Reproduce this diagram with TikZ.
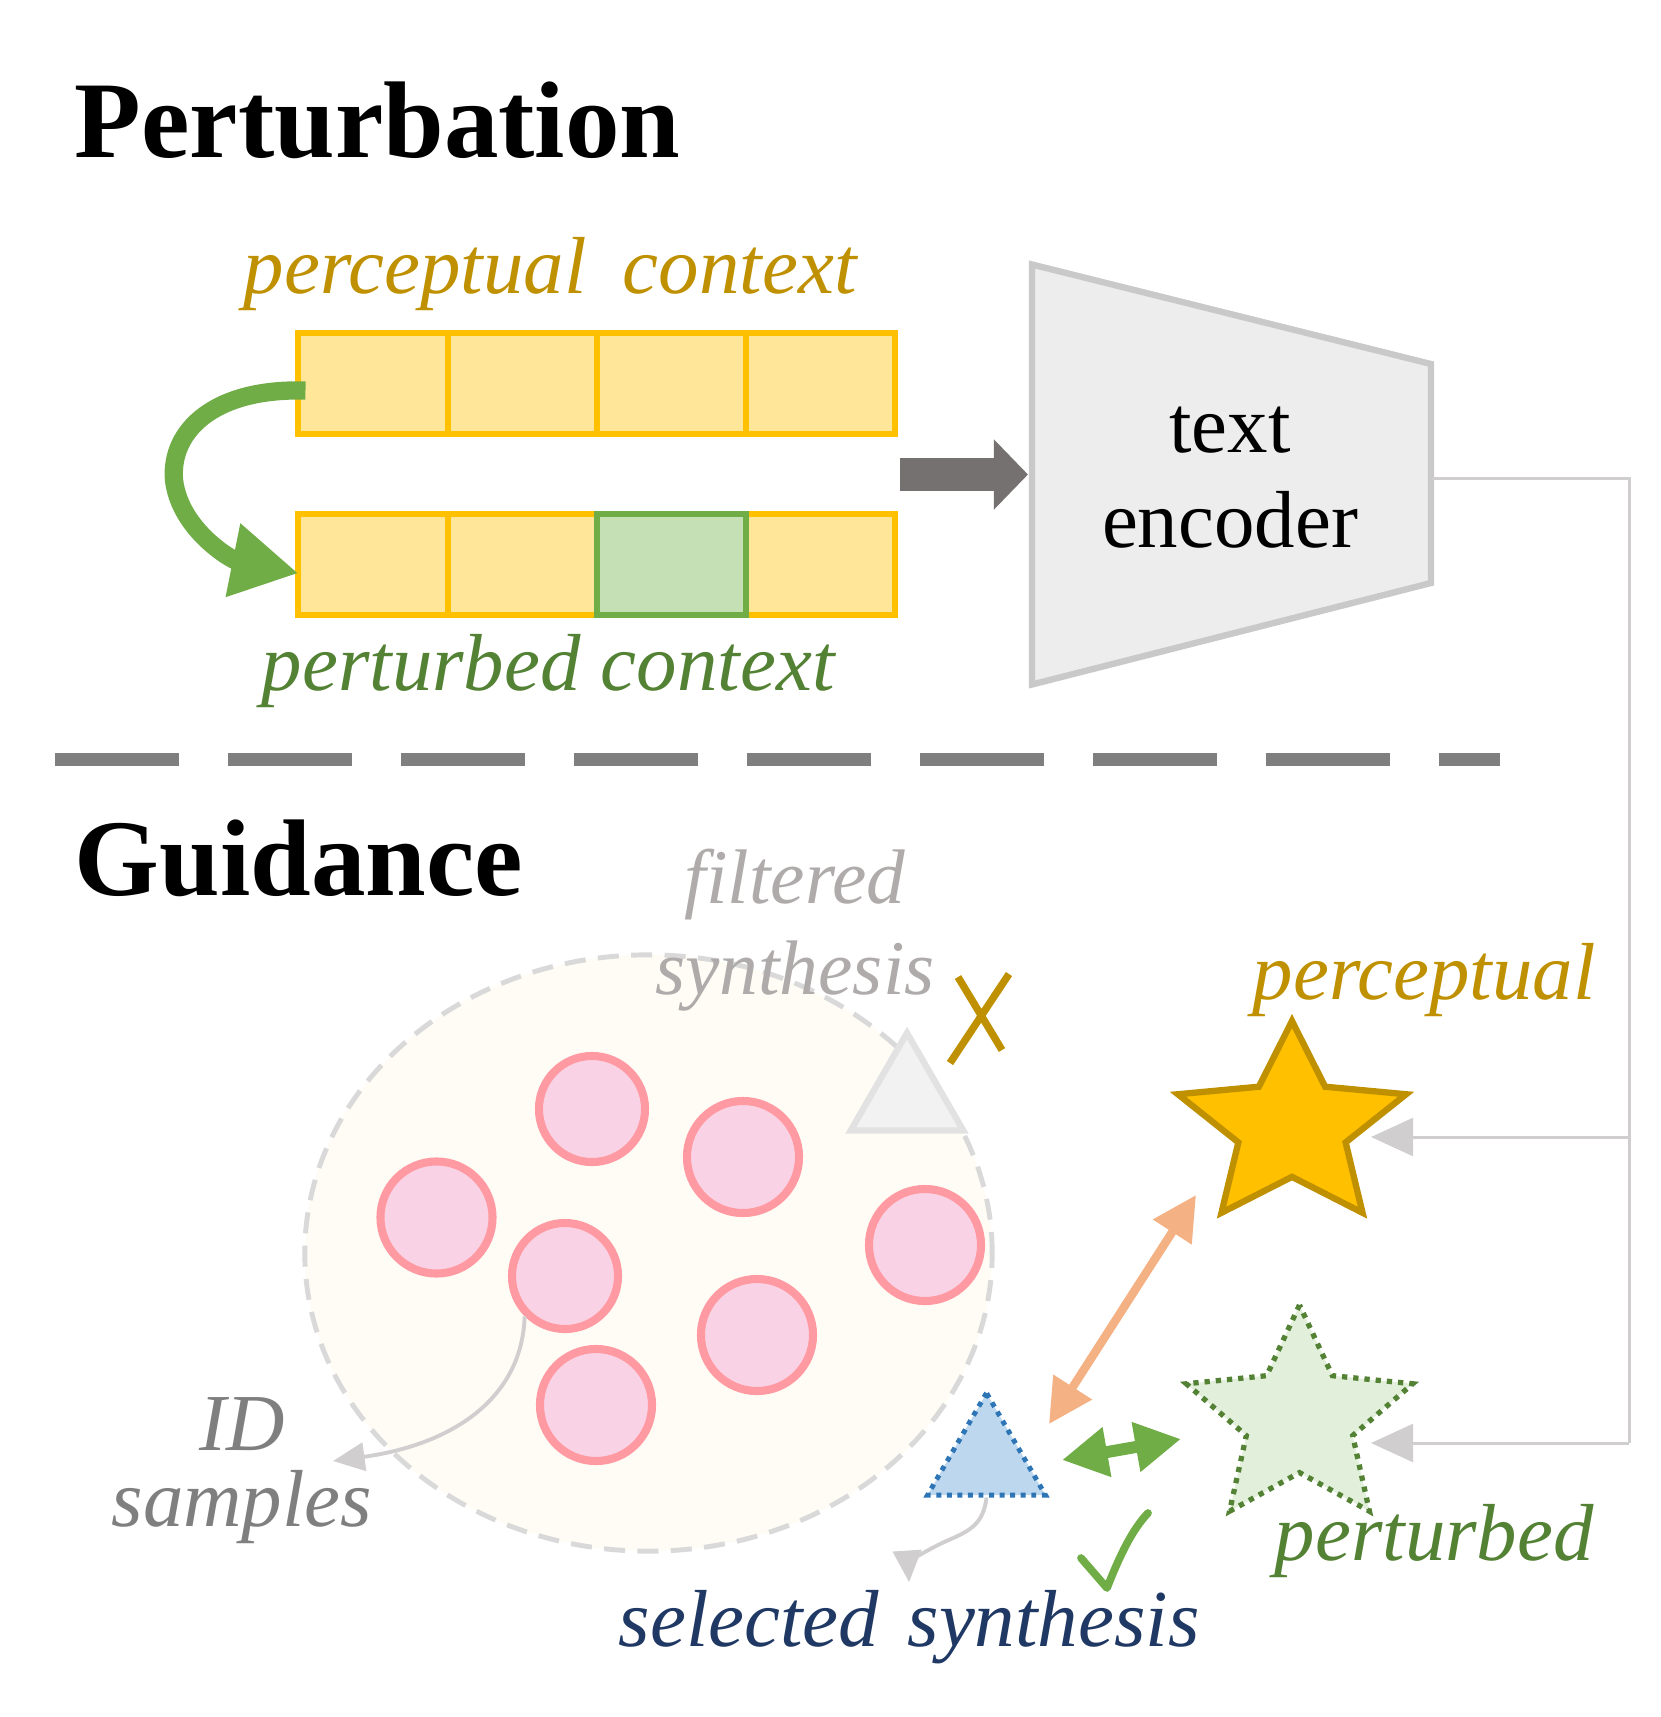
\documentclass[tikz,border=0pt]{standalone}
\usepackage{fontspec}
\setmainfont{Liberation Serif}
\usetikzlibrary{positioning,arrows.meta,shapes.geometric}

\definecolor{cellfill}{HTML}{FFE699}
\definecolor{cellline}{HTML}{FFC000}
\definecolor{swapgreen}{HTML}{70AD47}
\definecolor{swapfill}{HTML}{C5E0B4}
\definecolor{gold}{HTML}{BF9000}
\definecolor{leafgreen}{HTML}{548235}
\definecolor{encfill}{HTML}{EDEDED}
\definecolor{encline}{HTML}{C9C9C9}
\definecolor{blockgray}{HTML}{767171}
\definecolor{sepgray}{HTML}{7F7F7F}
\definecolor{wiregray}{HTML}{D0CECE}
\definecolor{cloudfill}{HTML}{FFFCF5}
\definecolor{cloudline}{HTML}{D9D9D9}
\definecolor{idfill}{HTML}{F9D3E5}
\definecolor{idline}{HTML}{FF9AA2}
\definecolor{filtfill}{HTML}{F2F2F2}
\definecolor{filtline}{HTML}{E2E2E2}
\definecolor{filttext}{HTML}{AFABAB}
\definecolor{selfill}{HTML}{BDD7EE}
\definecolor{selline}{HTML}{2E75B6}
\definecolor{seltext}{HTML}{203864}
\definecolor{starfill}{HTML}{FFC000}
\definecolor{pertfill}{HTML}{E2EFDA}
\definecolor{peach}{HTML}{F4B183}

\begin{document}
\begin{tikzpicture}[x=0.01cm, y=-0.01cm,
  cell/.style={draw=cellline, fill=cellfill, line width=1.7pt,
    minimum width=1.49cm, minimum height=1cm, inner sep=0pt, outer sep=0pt},
  swapcell/.style={cell, draw=swapgreen, fill=swapfill},
  sectitle/.style={font=\fontsize{31}{36}\selectfont\bfseries, inner sep=0pt},
  itlabel/.style={font=\fontsize{23}{27}\selectfont\itshape, inner sep=0pt},
  idsample/.style={circle, draw=idline, fill=idfill, line width=2.3pt, inner sep=0pt},
  synth/.style={regular polygon, regular polygon sides=3, inner sep=0pt},
  wire/.style={wiregray, line width=0.85pt},
  pointer/.style={wiregray, line width=1.1pt, -{Triangle[length=9pt,width=8pt]}}]

  \useasboundingbox (0,0) rectangle (1661,1717);

  % section titles
  \node[sectitle, anchor=base west] (pert) at (74,157) {Perturbation};
  \node[sectitle, anchor=base west] (guid) at (74,895) {Guidance};

  % context tokens
  \node[cell] (c1) at (373,383.5) {};
  \node[cell, right=0pt of c1] (c2) {};
  \node[cell, right=0pt of c2] (c3) {};
  \node[cell, right=0pt of c3] (c4) {};
  \node[cell] (d1) at (373,564.5) {};
  \node[cell, right=0pt of d1] (d2) {};
  \node[cell, right=1.49cm of d2] (d4) {};
  \node[swapcell, right=0pt of d2] (d3) {};

  \node[itlabel, text=gold, anchor=base west] (ctxp) at (243,293)
    {perceptual\hspace{0.45em}context};
  \node[itlabel, text=leafgreen, anchor=base west] (ctxq) at (261,690)
    {perturbed context};

  % swap arrow
  \draw[swapgreen, line width=5.2pt, -{Triangle[length=19pt,width=20pt]}]
    ([xshift=2pt,yshift=-2pt]c1.west) .. controls (215,388) and (170,430) .. (174,480)
    .. controls (180,530) and (232,560) .. ([yshift=-2.5pt]d1.west);

  % text encoder
  \draw[encline, fill=encfill, line width=1.8pt]
    (1032,264.5) -- (1431,364) -- (1431,583) -- (1032,684.5) -- cycle;
  \coordinate (mid) at (900,474.5);
  \coordinate (encin) at (1028,474.5);
  \coordinate (encout) at (1432,478);
  \node[font=\fontsize{23}{27}\selectfont, align=center] (enc) at (1230,478)
    {text\\encoder};
  \draw[blockgray, line width=9.6pt, -{Triangle[length=9.7pt,width=19.4pt]}]
    (mid) -- (encin);

  % separator
  \coordinate (sepl) at (55,759);
  \coordinate (sepr) at (1500,759);
  \draw[sepgray, line width=3.7pt, dash pattern=on 35.3pt off 13.9pt] (sepl) -- (sepr);

  % ID cloud
  \draw[cloudline, fill=cloudfill, line width=1.4pt, dash pattern=on 6pt off 3.5pt]
    (648.5,1253) ellipse [x radius=3.435cm, y radius=2.98cm];
  \foreach \n/\px/\py/\sz in {1/592/1109/1.06, 2/743/1157/1.12, 3/436.5/1217.5/1.12,
      4/565/1276/1.06, 5/925/1245/1.12, 6/757/1335/1.12, 7/596/1405/1.12}
    \node[idsample, minimum size=\sz cm] (s\n) at (\px,\py) {};

  % synthesis samples
  \node[synth, draw=filtline, fill=filtfill, line width=1.8pt, minimum size=1.3cm]
    (tfil) at (907,1098) {};
  \node[synth, draw=selline, fill=selfill, line width=1.4pt,
    dash pattern=on 1.4pt off 1.6pt, minimum size=1.36cm] (tsel) at (986.5,1461) {};

  \draw[gold, line width=2.1pt] (958,977) -- (1002,1050) (1009,974) -- (950,1063);
  \draw[swapgreen, line width=2.2pt, line cap=round, line join=round]
    (1081,1558) -- (1107,1588) .. controls (1120,1555) and (1132,1530) .. (1148,1513);

  % perceptual star
  \def\sx{1292} \def\sy{1127}
  \draw[gold, fill=starfill, line width=1.8pt, miter limit=10]
    (\sx,\sy-106) \foreach \k in {1,...,9} {
      -- ({\sx+(mod(\k,2)==1?0.47:1)*120*cos(90+36*\k)},
          {\sy-(mod(\k,2)==1?0.47:1)*106*sin(90+36*\k)}) } -- cycle;

  % perturbed star
  \def\sx{1299.5} \def\sy{1419}
  \draw[leafgreen, fill=pertfill, line width=1.5pt, dash pattern=on 1.5pt off 1.7pt]
    (\sx,\sy-114) \foreach \k in {1,...,9} {
      -- ({\sx+(mod(\k,2)==1?0.47:1)*119*cos(90+36*\k)},
          {\sy-(mod(\k,2)==1?0.47:1)*114*sin(90+36*\k)}) } -- cycle;

  % labels
  \node[itlabel, text=filttext, font=\fontsize{22}{26}\selectfont\itshape, align=center]
    (filt) at (795,930) {filtered\\synthesis};
  \node[itlabel, text=sepgray, font=\fontsize{23}{21.6}\selectfont\itshape, align=center]
    (idlab) at (242,1471) {ID\\samples};
  \node[itlabel, text=seltext, inner sep=2pt, anchor=base west] (sellab) at (611,1646)
    {selected\hspace{0.35em}synthesis};
  \node[itlabel, text=gold, anchor=base west] (plab) at (1252,999) {perceptual};
  \node[itlabel, text=leafgreen, anchor=base west] (qlab) at (1274,1560) {perturbed};

  % distances
  \coordinate (selpt) at (1049,1424);
  \coordinate (perpt) at (1196,1195);
  \coordinate (selq) at (1062,1460);
  \coordinate (pertq) at (1181,1439);
  \draw[peach, line width=2.4pt,
    {Triangle[length=12.5pt,width=12.5pt]}-{Triangle[length=12.5pt,width=12.5pt]}] (selpt) -- (perpt);
  \draw[swapgreen, line width=3.4pt,
    {Triangle[length=13pt,width=13.5pt]}-{Triangle[length=13pt,width=13.5pt]}] (selq) -- (pertq);

  % encoder outputs
  \coordinate (bus1) at (1629,1137);
  \coordinate (bus2) at (1629,1443);
  \coordinate (pin) at (1371,1137);
  \coordinate (qin) at (1371,1443);
  \draw[wire] (encout) -| (bus2);
  \draw[wire, -{Triangle[length=12pt,width=10.8pt]}] (bus1) -- (pin);
  \draw[wire, -{Triangle[length=12pt,width=10.8pt]}] (bus2) -- (qin);

  % pointers
  \coordinate (idtip) at (333,1461);
  \draw[pointer] (s4.south west) .. controls (522,1400) and (450,1445) .. (idtip);
  \draw[pointer] (tsel.south) .. controls (983,1530) and (962,1533) .. (938,1545)
    .. controls (914,1557) and (908,1565) .. (sellab.north);

\end{tikzpicture}
\end{document}
